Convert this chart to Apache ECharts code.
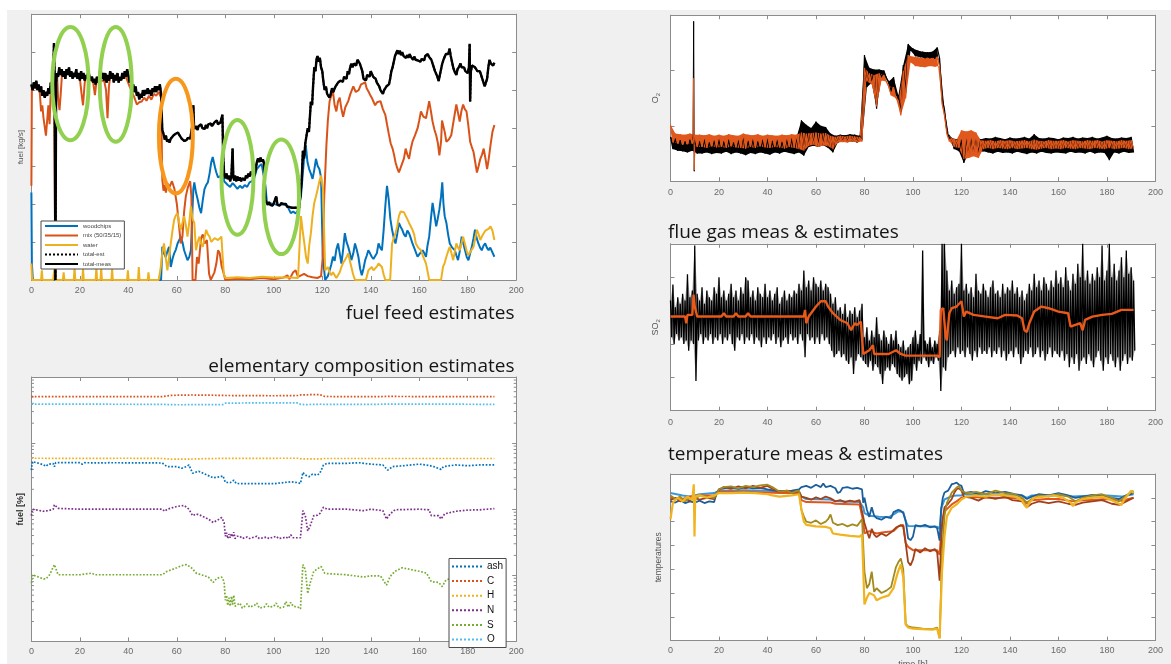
<!DOCTYPE html>
<html>
<head>
<meta charset="utf-8">
<script src="https://cdn.jsdelivr.net/npm/echarts@6/dist/echarts.min.js"></script>
<style>
html,body{margin:0;padding:0;background:#fff;}
#chart{width:1171px;height:664px;}
</style>
</head>
<body>
<div id="chart"></div>
<script>
// ---------------- shared time axis ----------------
const hourTicks = [0, 20, 40, 60, 80, 100, 120, 140, 160, 180, 200];

// ---------------- fuel feed estimates [kg/s] ----------------
const woodchips = [[0,2.3],[0.2,0.43],[0.6,0],[53.5,0],[54,0.87],[54.7,0.7],[55.4,0.6],[56.1,0.75],[56.8,0.87],[57.5,0.34],[58.2,0.55],[58.9,0.7],[59.6,0.8],[60.3,0.96],[61,1.05],[61.6,1.14],[62.3,1.0],[63,0.78],[63.7,0.65],[64.4,0.52],[65.1,0.6],[65.8,0.78],[66.3,1.6],[66.8,2.39],[67.2,2.57],[67.9,2.3],[68.6,2.12],[69.3,1.9],[70,1.76],[70.7,2.1],[71.4,2.39],[72.1,2.5],[72.8,2.57],[73.5,2.8],[74.2,3.1],[74.8,3.24],[75.2,3.2],[75.8,2.95],[76.3,2.83],[77,2.7],[77.7,2.66],[78.4,2.75],[79,2.88],[79.5,2.6],[80,2.55],[81,2.5],[82,2.45],[83,2.55],[84,2.48],[85,2.4],[86,2.48],[87,2.42],[88,2.5],[89,2.45],[90,2.57],[91,2.6],[92,2.7],[93,2.92],[94,3.0],[95,3.05],[95.8,3.1],[96.5,2.5],[97.2,2.03],[98,1.99],[100,2.0],[102,1.97],[104,1.99],[105.6,1.95],[106.3,1.85],[107,1.76],[108,1.8],[109,1.75],[109.8,1.81],[110.5,1.85],[111.2,2.2],[111.9,2.75],[112.5,3.2],[113.2,3.55],[113.9,3.1],[114.6,2.92],[115.3,2.8],[116,2.66],[116.7,2.9],[117.4,3.19],[118.1,3.0],[118.8,2.92],[119.5,2.7],[120.2,0.61],[121.2,0],[122.3,0.1],[123,0.25],[123.7,0.4],[124.4,0.61],[125.1,0.5],[125.8,0.8],[126.5,0.96],[127.2,0.7],[127.9,0.43],[128.6,0.8],[129.3,1.23],[130,1.0],[130.7,0.87],[131.4,0.7],[132,0.52],[132.8,0.7],[133.5,0.96],[134.2,0.8],[134.9,0.61],[135.6,0.3],[136.3,0.12],[137,0.3],[137.7,0.52],[138.4,0.65],[139,0.78],[139.7,0.7],[140.4,0.61],[141.1,0.55],[141.8,0.52],[142.5,0.7],[143.2,0.96],[143.9,0.85],[144.6,0.78],[145.3,1.3],[146,1.94],[146.7,2.48],[147.4,2.12],[148.1,1.6],[148.8,1.32],[149.5,1.1],[150.2,0.96],[150.9,1.2],[151.6,1.5],[152.3,1.4],[153,1.32],[153.7,1.2],[154.4,1.14],[155.1,1.3],[155.8,1.23],[156.5,1.1],[157.2,0.96],[158.2,0.8],[159.3,0.61],[160.3,0.7],[161.4,0.78],[162.1,0.7],[162.8,0.61],[163.4,0.9],[164.1,1.14],[164.8,1.6],[165.5,2.03],[166.3,1.7],[167,1.41],[167.6,1.6],[168.3,1.85],[169,2.2],[169.5,2.57],[170,2.0],[170.5,1.68],[171.2,1.5],[171.9,1.2],[172.6,0.96],[173.6,0.85],[174.7,0.78],[175.3,0.65],[176,0.52],[176.7,0.75],[177.5,1.14],[178.2,0.96],[178.9,0.78],[179.6,0.6],[180.3,0.52],[181,0.7],[181.7,0.87],[182.4,1.1],[183,1.32],[183.7,1.1],[184.4,0.96],[185.1,0.85],[185.8,0.78],[186.5,0.9],[187.2,0.96],[187.9,0.85],[188.6,0.78],[189.3,0.85],[190,0.87],[191,0.61]];

const mixFuel = [[0,2.48],[0.2,5.1],[1,5.15],[2,5.05],[3,5.1],[3.5,4.9],[4,4.44],[4.5,4.6],[5,4.26],[5.5,4.3],[6,3.8],[6.5,4.2],[7,4.6],[7.5,4.1],[8,5.0],[8.5,5.1],[9,5.2],[9.3,5.7],[9.9,0],[10.2,5.2],[10.6,5.4],[11,4.8],[11.6,4.47],[12.2,5.0],[12.6,5.4],[14,5.45],[16,5.4],[18,5.4],[20,5.3],[20.7,4.9],[21.3,4.6],[22,5.2],[22.5,5.35],[24,5.3],[25.5,5.2],[26.2,4.87],[26.8,5.2],[28,5.25],[30,5.25],[30.8,5.0],[31.4,4.26],[32,5.1],[32.5,5.35],[35,5.3],[37,5.3],[39,5.35],[40.5,5.1],[41.5,4.95],[42.5,4.8],[43.5,4.62],[44.5,4.68],[45.5,4.7],[46.5,4.8],[47.5,4.72],[48.5,4.85],[49.5,4.75],[50.5,4.9],[51.5,4.85],[52.5,4.95],[53.5,4.8],[54,2.65],[54.5,2.35],[55,2.5],[55.5,2.3],[56,2.55],[57,2.45],[58,2.6],[59,2.4],[60,2.0],[60.8,1.5],[61.6,0.96],[62.3,1.14],[63,1.8],[63.7,2.2],[64.5,2.43],[65.5,2.6],[66,2.2],[66.5,0],[67.7,0],[68.3,0.6],[69,0.43],[70,1.1],[70.7,1.2],[71.5,0.96],[72.4,1.05],[73.3,0.16],[74,0],[75.5,0.2],[76.3,0.43],[77,0.78],[77.7,0.7],[78.5,0.35],[79,0.25],[80,0],[85,0.03],[90,0.02],[95,0.05],[100,0.02],[104,0.06],[105.6,0.12],[106.5,0.02],[108,0.2],[109,0.25],[110,0.08],[112.5,0.16],[114,0.1],[116,0.07],[118,0.05],[119.5,0.1],[120.2,0.6],[120.8,2.2],[121.7,3.55],[122.3,4.2],[123,4.7],[123.7,4.85],[124.4,4.97],[125.1,4.6],[125.8,4.44],[126.5,4.7],[127.2,4.8],[127.9,4.5],[128.6,4.3],[129.5,4.55],[130.7,4.71],[131.6,4.9],[132.8,5.1],[133.8,4.95],[135,5.0],[136,5.15],[137.7,5.2],[138.3,5.05],[139,4.97],[139.7,4.88],[140.4,4.8],[141.1,4.7],[141.8,4.6],[142.6,4.68],[144,4.71],[145,4.5],[146,4.35],[146.7,4.1],[147.4,3.86],[148.2,3.6],[149,3.46],[149.6,3.3],[150.2,3.1],[150.9,2.95],[151.6,2.83],[152.3,2.95],[153,2.92],[153.7,3.2],[154.4,3.46],[155.1,3.3],[155.8,3.19],[156.5,3.45],[157.2,3.64],[158.2,3.8],[159.3,3.99],[160,4.2],[160.7,4.44],[161.7,4.3],[162.8,4.26],[163.5,4.5],[164.1,4.71],[164.8,4.45],[165.5,4.17],[166.3,3.95],[167,3.81],[167.7,3.6],[168.3,3.28],[169,3.64],[169.4,4.2],[169.8,4.17],[170.5,3.9],[171.2,3.64],[172.2,3.7],[173.2,3.81],[174.2,4.2],[175.3,4.62],[176,4.4],[176.7,4.17],[177.4,4.45],[178.1,4.62],[178.8,4.5],[179.5,4.44],[180.2,4.1],[181,3.64],[181.7,3.5],[182.4,3.37],[183.1,3.1],[183.8,2.83],[184.5,3.0],[185.2,3.19],[185.9,3.3],[186.6,3.46],[187.3,3.2],[188,2.92],[188.7,3.2],[189.4,3.55],[190.2,3.9],[191,4.08]];

const waterFuel = [[0,0.43],[0.3,0],[4,0],[4.3,0.25],[4.6,0],[9,0],[9.5,0.3],[10,0],[13,0],[13.3,0.2],[13.6,0],[17.5,0],[17.8,0.34],[18.1,0],[21,0],[21.3,0.3],[21.6,0],[26.5,0],[26.8,0.34],[27.1,0],[28.5,0],[28.8,0.3],[29.1,0],[33,0],[33.3,0.3],[33.6,0],[39.5,0],[39.8,0.25],[40.1,0],[44,0],[44.3,0.34],[44.6,0],[48,0],[48.3,0.2],[48.6,0],[52.5,0],[53.3,0.3],[54,0.7],[54.7,0.96],[55.4,0.6],[56.1,0.25],[56.8,0.6],[57.5,0.96],[58.2,1.3],[58.9,1.59],[59.6,1.7],[60.3,1.76],[61,1.5],[61.6,1.32],[62.3,1.5],[63,1.68],[63.7,1.45],[64.4,1.14],[65.1,1.5],[65.8,1.94],[66.5,1.6],[67.2,1.5],[67.9,0.78],[68.6,1.0],[69.3,1.14],[70,0.96],[70.7,0.87],[71.4,1.1],[72.1,1.32],[72.8,1.2],[73.5,1.14],[74.2,1.0],[74.9,1.05],[75.6,1.1],[76.3,1.14],[77,1.05],[77.7,1.1],[78.4,1.14],[78.9,0.6],[79.4,0.16],[80,0.05],[85,0.07],[90,0.05],[95,0.08],[100,0.06],[105,0.07],[110,0.05],[110.8,0.1],[111.2,1.68],[111.9,1.3],[112.6,0.96],[113.3,0.6],[114,0.43],[114.6,0.9],[115.3,1.23],[116,1.7],[116.7,2.03],[117.4,2.2],[118.1,2.39],[118.8,2.6],[119.5,2.75],[120.3,2.4],[121.2,0.25],[122.3,0.34],[123,0.2],[123.7,0.12],[124.4,0.2],[125.1,0.16],[125.8,0.05],[126.5,0],[127.2,0.2],[127.9,0.34],[128.6,0.45],[129.3,0.52],[130,0.6],[130.7,0.7],[131.4,0.5],[132,0.34],[132.7,0.15],[133.5,0],[138,0],[139,0.25],[139.7,0.3],[140.4,0.34],[141.1,0.25],[141.8,0.25],[142.5,0.35],[143.2,0.43],[143.9,0.38],[144.6,0.34],[145.3,0.15],[146,0],[148,0],[148.8,0.96],[149.5,1.1],[150.2,1.23],[150.9,1.4],[151.6,1.68],[152.3,1.8],[153,1.85],[153.7,1.78],[154.4,1.76],[155.1,1.6],[155.8,1.5],[156.5,1.45],[157.2,1.32],[157.9,1.2],[158.6,0.96],[159.6,0.85],[160.7,0.78],[161.7,0.6],[162.8,0.43],[163.5,0.2],[164.1,0],[169,0],[169.8,0.34],[170.5,0.45],[171.2,0.61],[171.9,0.75],[172.6,0.87],[173.3,0.7],[174,0.52],[174.7,0.75],[175.3,0.96],[176,0.85],[176.7,0.78],[177.4,0.96],[178.1,1.14],[178.8,0.96],[179.5,0.78],[180.2,0.65],[181,0.61],[181.7,0.8],[182.4,0.87],[183.1,1.1],[183.8,1.32],[184.5,1.2],[185.2,1.05],[185.9,1.15],[186.6,1.23],[187.3,1.3],[188,1.32],[188.7,1.35],[189.4,1.41],[190.2,1.3],[191,1.05]];

const totalMeas = [[0,5.15],[0.5,5.0],[1,5.2],[1.5,5.05],[2,5.25],[2.5,5.0],[3,5.15],[3.5,4.95],[4,5.1],[4.5,4.85],[5,5.0],[5.5,4.8],[6,4.95],[6.5,4.85],[7,5.05],[7.5,4.9],[8,5.2],[8.5,5.0],[9,5.3],[9.3,6.24],[9.6,5.4],[9.9,0],[10.2,5.2],[10.5,5.45],[11,5.35],[11.5,5.6],[12,5.4],[12.5,5.55],[13,5.35],[13.5,5.5],[14,5.3],[14.5,5.55],[15,5.4],[15.5,5.6],[16,5.35],[16.5,5.5],[17,5.3],[17.5,5.45],[18,5.35],[18.5,5.55],[19,5.3],[19.5,5.45],[20,5.25],[20.5,5.5],[21,5.3],[21.5,5.45],[22,5.25],[22.5,5.4],[23,5.3],[23.5,5.5],[24,5.35],[24.5,5.25],[25,5.35],[25.5,5.2],[26,5.3],[26.5,5.15],[27,5.35],[27.5,5.2],[28,5.3],[28.5,5.6],[29,5.3],[29.5,5.45],[30,5.25],[30.5,5.45],[31,5.2],[31.5,5.4],[32,5.25],[32.5,5.5],[33,5.3],[33.5,5.45],[34,5.2],[34.5,5.4],[35,5.25],[35.5,5.45],[36,5.2],[36.5,5.35],[37,5.25],[37.5,5.45],[38,5.3],[38.5,5.5],[39,5.35],[39.5,5.55],[40,5.4],[40.5,5.2],[41,5.3],[41.5,5.05],[42,5.15],[42.5,4.95],[43,5.1],[43.5,4.85],[44,4.95],[44.5,4.75],[45,4.9],[45.5,4.8],[46,5.0],[46.5,4.85],[47,5.0],[47.5,4.9],[48,5.05],[48.5,4.9],[49,5.0],[49.5,4.85],[50,5.05],[50.5,4.95],[51,5.1],[51.5,4.95],[52,5.1],[52.5,5.0],[53,5.15],[53.5,4.9],[54,3.95],[54.5,3.85],[55,3.7],[55.5,3.8],[56,3.64],[56.5,3.7],[57,3.62],[57.5,3.72],[58,3.7],[58.5,3.8],[59,3.75],[59.5,3.85],[60,3.8],[60.5,3.88],[61,3.82],[61.5,3.78],[62,3.72],[62.5,3.68],[63,3.66],[63.5,3.7],[64,3.68],[64.5,3.74],[65,3.7],[65.5,3.72],[66,3.7],[66.5,4.1],[66.8,4.6],[67.1,4.05],[67.5,3.98],[68,4.05],[68.5,3.95],[69,4.05],[69.5,4.0],[70,4.1],[70.5,4.0],[71,4.05],[71.5,3.98],[72,4.08],[72.5,4.0],[73,4.1],[73.5,4.05],[74,4.12],[74.5,4.05],[75,4.1],[75.5,4.15],[76,4.12],[76.5,4.2],[77,4.1],[77.5,4.08],[78,4.15],[78.5,4.1],[78.8,4.35],[79.1,3.3],[79.5,2.8],[80,2.68],[80.5,2.8],[81,2.65],[81.5,2.75],[82,2.6],[82.5,2.72],[83,3.46],[83.3,2.7],[83.7,2.62],[84,2.75],[84.5,2.6],[85,2.72],[85.5,2.62],[86,2.7],[86.5,2.6],[87,2.68],[87.5,2.72],[88,2.62],[88.5,2.75],[89,2.68],[89.5,2.8],[90,2.72],[90.5,2.85],[91,2.78],[91.5,2.82],[92,2.75],[92.5,2.9],[93,3.1],[93.5,3.2],[94,3.1],[94.5,3.22],[95,3.12],[95.5,3.18],[96,3.05],[96.5,2.1],[97,2.05],[97.5,1.98],[98,2.05],[98.5,1.98],[99,2.03],[99.5,1.96],[100,2.02],[100.5,1.97],[101,2.2],[101.5,1.98],[102,2.03],[102.5,1.96],[103,2.02],[103.5,1.97],[104,2.0],[104.5,1.95],[105,2.0],[105.5,1.93],[106,1.98],[106.5,1.92],[107,1.97],[107.5,1.9],[108,1.95],[108.5,1.9],[109,1.95],[109.5,1.9],[110,1.93],[110.5,1.9],[111,1.95],[111.5,2.6],[112,3.4],[112.5,3.2],[113,3.6],[113.5,3.8],[114,4.0],[114.5,3.9],[115,4.4],[115.3,4.7],[115.8,4.6],[116.2,5.1],[116.7,5.6],[117.2,5.5],[117.6,5.8],[118,5.9],[118.5,5.75],[119,5.85],[119.5,5.6],[120,5.5],[120.5,5.2],[121,5.0],[121.5,5.1],[122,4.9],[122.5,4.85],[123,4.8],[123.5,4.9],[124,5.05],[124.5,4.95],[125,5.0],[125.5,5.1],[126,5.05],[126.5,5.2],[127,5.15],[127.5,5.25],[128,5.3],[128.5,5.22],[129,5.35],[129.5,5.4],[130,5.3],[130.5,5.5],[131,5.42],[131.5,5.6],[132,5.7],[132.5,5.6],[133,5.7],[133.5,5.75],[134,5.65],[134.5,5.8],[135,5.82],[135.5,5.7],[136,5.75],[136.5,5.5],[137,5.3],[137.5,5.35],[138,5.25],[138.5,5.4],[139,5.42],[139.5,5.35],[140,5.5],[140.5,5.45],[141,5.35],[141.5,5.4],[142,5.3],[142.5,5.2],[143,5.24],[143.5,5.1],[144,5.0],[144.5,4.95],[145,4.9],[145.5,5.0],[146,4.95],[146.5,5.1],[147,5.05],[147.5,5.15],[148,5.3],[148.5,5.5],[149,5.6],[149.5,5.75],[150,5.9],[150.5,5.95],[151,6.05],[151.5,5.95],[152,6.04],[152.5,5.92],[153,6.0],[153.5,5.9],[154,5.95],[154.5,5.85],[155,5.92],[155.5,5.85],[156,5.95],[156.5,5.88],[157,5.9],[157.5,5.8],[158,5.88],[158.5,5.8],[159,5.85],[159.5,5.78],[160,5.82],[160.5,5.75],[161,5.82],[161.5,5.85],[162,5.78],[162.5,5.9],[163,5.85],[163.5,5.95],[164,5.88],[164.5,5.92],[165,5.8],[165.5,5.7],[166,5.6],[166.5,5.5],[167,5.45],[167.5,5.35],[168,5.24],[168.5,5.4],[169,5.55],[169.5,5.7],[170,5.8],[170.5,5.88],[171,5.95],[171.5,6.0],[172,5.95],[172.5,6.09],[173,5.9],[173.5,5.75],[174,5.6],[174.5,5.5],[175,5.45],[175.3,5.4],[175.8,5.55],[176.5,5.62],[177,5.7],[177.5,5.6],[178,5.55],[178.5,5.6],[179,5.5],[179.5,5.52],[180,5.45],[180.5,5.6],[180.8,6.22],[181,4.7],[181.3,5.5],[181.8,5.65],[182.5,5.7],[183,5.6],[183.5,5.65],[184,5.5],[184.5,5.55],[185,5.5],[185.5,5.4],[186,5.3],[186.5,5.2],[187,5.1],[187.6,5.06],[188,5.3],[188.5,5.6],[189,5.8],[189.5,5.7],[190,5.75],[190.5,5.65],[191,5.72]];
// the estimated total follows the measured total so closely that it hides under it
const totalEst = totalMeas;

// highlighted periods: centre [h, kg/s] and half-axes [h, kg/s]
const highlightCentres = [[16.1,5.17],[34.8,5.15],[59.6,3.79],[85.0,2.70],[103.1,2.19]];
const highlightRadii   = [[7.5,1.49],[6.6,1.51],[7.0,1.51],[6.6,1.51],[7.3,1.51]];
const highlightColours = ['#92d050','#92d050','#f7981d','#92d050','#92d050'];

// ---------------- elementary composition estimates [%] ----------------
const compAsh = [[0,3.9],[0.4,5.25],[3,4.95],[5,4.7],[6,4.45],[7,4.8],[9,4.9],[9.5,4.4],[10,5.05],[20,5.05],[21,4.8],[22,5.05],[31,5.0],[31.5,4.8],[32,5.05],[54,5.0],[55,4.67],[56,4.41],[60,4.41],[62,4.16],[64,4.41],[65,4.67],[66.5,3.5],[67,3.69],[69,3.75],[72,3.35],[75,2.98],[78,3.1],[79,3.2],[80,2.56],[82,2.52],[83.5,2.75],[84.5,2.45],[90,2.43],[100,2.43],[107,2.6],[110,2.52],[111,2.45],[112,3.6],[113,3.28],[114.5,3.1],[116,3.4],[118,3.28],[119,3.5],[120.5,4.67],[122,4.94],[130,4.94],[135,5.05],[140,4.8],[145,4.67],[147,3.9],[149,4.41],[152,4.5],[160,4.8],[164,4.6],[166,4.41],[169,4.0],[170,4.41],[175,4.67],[180,4.55],[185,4.67],[191,4.67]];
const compC = [[0,50.4],[10,50.6],[20,50.4],[40,50.4],[54,50.6],[57,52.5],[60,53],[66,53.4],[75,53],[80,52.5],[90,52.3],[100,52],[110,52.5],[111,53.5],[115,54],[119,54],[121,50.8],[130,50.4],[140,50.4],[147,50.8],[160,50.6],[170,50.5],[191,50.4]];
const compH = [[0,5.9],[20,5.88],[40,5.9],[54,5.85],[58,5.7],[65,5.72],[70,5.8],[80,5.88],[110,5.9],[112,5.75],[120,5.78],[121,5.85],[150,5.85],[191,5.85]];
const compN = [[0,0.8],[0.4,1.0],[5,0.93],[7,0.95],[9,1.0],[9.5,1.17],[11,1.03],[20,1.0],[40,1.0],[54,1.0],[55,0.93],[56,1.0],[60,1.1],[63,1.14],[65,1.0],[66.5,0.8],[68,0.85],[70,0.8],[73,0.71],[75,0.63],[77,0.69],[78.5,0.75],[79.5,0.63],[80,0.39],[80.5,0.44],[81,0.36],[81.5,0.42],[82,0.37],[82.5,0.43],[83,0.38],[83.5,0.45],[84,0.36],[85,0.39],[86,0.39],[87,0.36],[88,0.37],[89,0.38],[90,0.36],[92,0.38],[93,0.39],[94,0.36],[96,0.37],[97,0.38],[98,0.36],[100,0.38],[101,0.39],[102,0.36],[104,0.37],[105,0.38],[106,0.36],[107,0.41],[108,0.37],[110,0.37],[111,0.37],[112,0.95],[113,0.8],[114,0.47],[115,0.56],[116.5,0.8],[118,0.81],[119,0.86],[120.5,1.07],[122,1.0],[130,1.0],[137,0.95],[140,1.0],[145,0.95],[146.5,0.71],[148,0.85],[150,0.98],[160,1.0],[164,0.98],[165,0.8],[168,0.8],[169,0.71],[170.5,0.85],[175,0.93],[180,0.97],[185,0.98],[191,1.02]];
const compS = [[0,0.076],[0.4,0.102],[5,0.088],[6,0.088],[7.5,0.102],[9.5,0.145],[11,0.102],[20,0.102],[25,0.108],[26,0.102],[40,0.102],[54,0.102],[55,0.108],[56,0.115],[58,0.122],[60,0.13],[62,0.14],[64,0.145],[66,0.13],[68,0.108],[70,0.102],[73,0.094],[75,0.078],[76.5,0.09],[78.5,0.094],[79.5,0.08],[80,0.042],[80.5,0.05],[81,0.035],[81.5,0.046],[82,0.034],[82.5,0.048],[83,0.036],[83.5,0.05],[84,0.034],[85,0.036],[86,0.038],[87,0.032],[88,0.034],[89,0.037],[90,0.033],[92,0.035],[93,0.038],[94,0.032],[96,0.033],[97,0.037],[98,0.033],[100,0.034],[101,0.038],[102,0.032],[104,0.033],[105,0.04],[106,0.033],[107,0.039],[108,0.034],[110,0.033],[111,0.031],[112,0.145],[113,0.122],[114,0.053],[115,0.076],[116.5,0.115],[118,0.125],[119.5,0.136],[121,0.108],[122,0.106],[130,0.102],[137,0.094],[140,0.098],[144,0.098],[146.5,0.071],[148,0.096],[150,0.115],[153,0.13],[160,0.115],[163,0.108],[165,0.08],[168,0.078],[169.5,0.0675],[171,0.085],[175,0.094],[180,0.098],[185,0.102],[191,0.103]];
const compO = [[0,38.9],[20,38.8],[40,38.7],[54,38.5],[60,38.0],[70,38.2],[79,38.3],[80,40.2],[90,40.5],[100,40.6],[110,40.5],[111,38.6],[113,38.2],[120,38.8],[121,38.4],[140,38.5],[150,39.0],[170,38.9],[191,38.5]];
const logDecades = [0.01, 0.1, 1, 10];
const logMantissas = [2, 3, 4, 5, 6, 7, 8, 9];

// ---------------- O2: measured and estimated band, 2 h samples from 0 h ----------------
const o2MeasHi = [.80,.77,.74,.72,.75,.74,.72,.76,.70,.74, .76,.72,.75,.70,.74,.82,.73,.76,.72,.75, .77,.73,.75,.71,.76,.78,.80,1.10,1.02,.96, 1.08,1.00,.98,.86,.82,.84,.83,.85,.84,.82, 2.28,2.05,2.02,2.02,2.00,1.80,1.88,1.55,2.10,2.48, 2.40,2.36,2.34,2.33,2.34,2.42,1.50,.90,.78,.76, .75,.78,.77,.79,.76,.78,.77,.80,.78,.76, .79,.77,.78,.80,.77,.85,.78,.77,.79,.78, .76,.79,.78,.80,.77,.79,.78,.80,.77,.79, .82,.78,.77,.79,.78,.80];
const o2MeasLo = [.58,.55,.54,.52,.55,.50,.50,.52,.49,.51, .50,.53,.49,.52,.50,.47,.51,.49,.52,.50, .48,.52,.50,.53,.51,.49,.52,.46,.62,.64, .62,.65,.60,.52,.70,.72,.71,.72,.70,.74, 1.70,1.78,1.31,1.88,1.86,1.62,1.55,1.25,1.60,2.36, 2.26,2.24,2.22,2.22,2.21,2.22,1.30,.78,.58,.54, .33,.50,.53,.51,.54,.52,.50,.53,.51,.52, .50,.53,.51,.49,.52,.50,.53,.51,.50,.52, .51,.50,.53,.51,.52,.50,.53,.50,.52,.51, .38,.52,.50,.53,.51,.52];
const o2EstHi = [1.02,.86,.85,.84,.86,.84,.84,.83,.85,.82, .84,.82,.85,.83,.82,.86,.84,.83,.85,.82, .84,.83,.82,.84,.83,.85,.84,.88,.86,.87, .88,.86,.87,.82,.80,.82,.81,.82,.81,.80, 2.05,1.95,1.92,1.95,1.92,1.72,1.70,1.45,2.00,2.28, 2.25,2.24,2.22,2.23,2.22,2.25,1.40,.85,.78,.75, .92,.90,.92,.88,.74,.73,.74,.72,.74,.73, .74,.72,.73,.74,.72,.75,.73,.72,.74,.73, .73,.74,.72,.74,.73,.72,.74,.73,.74,.72, .74,.73,.72,.74,.73,.74];
const o2EstLo = [.70,.68,.66,.67,.68,.62,.62,.60,.63,.61, .62,.60,.63,.61,.60,.59,.62,.60,.63,.61, .60,.62,.61,.59,.62,.60,.58,.55,.64,.66, .62,.65,.63,.58,.70,.71,.70,.72,.70,.72, 1.80,1.75,1.35,1.82,1.80,1.55,1.50,1.19,1.50,2.15, 2.08,2.07,2.06,2.08,2.07,2.08,1.20,.72,.62,.60, .40,.42,.45,.42,.58,.60,.58,.60,.59,.58, .60,.58,.59,.60,.58,.57,.59,.60,.58,.59, .58,.60,.59,.58,.60,.59,.58,.60,.59,.58, .60,.58,.59,.60,.58,.59];
// short transient around 9.6 h
const o2MeasSpike = [[9.3,0.74],[9.55,2.89],[9.8,0.18],[10,0.6]];
const o2EstSpike = [[9.3,0.80],[9.55,1.86],[9.8,0.20],[10,0.66]];

// ---------------- SO2: measured range per hour from 0 h, and estimate ----------------
const so2MeasHi = [3.3,3.78,3.1,3.4,3.2,3.5,3.3,4.09,3.4,3.6, 4.95,3.5,3.3,3.7,3.2,3.6,3.4,3.3,3.7,3.5, 4.0,3.4,3.6,3.3,3.5,3.8,3.4,3.6,3.3,3.7, 3.5,4.0,3.9,3.4,3.6,3.3,3.7,3.5,3.4,3.8, 3.4,3.6,3.3,3.5,3.7,3.2,3.4,3.6,3.3,3.5, 3.4,3.6,3.5,3.8,3.6,4.2,3.7,3.9,3.6,4.0, 3.8,3.7,3.9,3.6,3.8,3.7,3.5,3.2,3.4,3.0, 3.1,2.9,3.2,2.8,3.0,2.9,3.1,2.8,3.0,3.2, 2.2,2.5,2.1,2.4,2.2,2.8,2.3,2.1,2.4,2.2, 2.0,2.3,2.1,2.4,2.0,1.9,2.1,1.8,1.9,2.0, 2.2,2.4,2.0,2.3,4.8,2.1,2.0,2.2,1.9,2.1, 2.0,2.4,5.0,5.0,4.2,3.6,3.9,3.5,3.7,3.8, 5.0,3.6,3.8,3.5,3.7,3.4,4.1,3.6,3.5,3.8, 3.6,3.4,3.7,3.9,3.5,3.6,3.4,3.8,3.5,3.7, 3.6,3.9,3.5,3.7,3.4,3.6,3.3,3.5,3.8,3.6, 4.1,3.7,3.9,3.6,4.0,3.8,3.6,3.9,3.7,4.2, 3.8,4.0,3.7,4.3,3.9,3.6,4.1,3.8,4.4,4.0, 5.0,3.9,4.2,3.8,4.1,3.9,4.3,4.0,4.95,3.9, 4.2,5.0,4.0,4.4,3.9,4.2,4.6,4.0,4.8,4.1, 4.3,3.9];
const so2MeasLo = [2.2,2.0,2.3,2.1,2.2,2.0,2.1,1.8,2.1,2.0, 0.89,2.1,2.3,2.0,2.2,2.1,2.3,2.0,2.2,2.1, 2.3,2.0,2.2,2.1,2.3,2.0,1.8,2.2,2.1,2.3, 2.0,2.2,2.1,2.3,2.0,2.2,2.1,1.9,2.2,2.0, 2.2,2.1,2.3,2.0,2.2,1.9,2.1,2.2,2.0,2.3, 2.1,2.2,2.0,2.3,2.1,1.6,2.3,2.1,2.2,2.0, 2.2,2.0,2.3,2.1,2.2,2.0,1.8,1.6,1.7,1.8, 1.6,1.7,1.5,1.4,1.6,1.1,1.5,1.7,1.6,1.5, 1.4,1.3,1.5,1.2,1.4,1.3,1.1,0.8,1.2,1.3, 1.2,1.4,1.3,1.1,1.0,0.9,1.0,1.1,0.79,0.9, 1.4,1.2,1.5,1.4,1.6,1.5,1.3,1.5,1.4,1.6, 1.5,0.59,1.3,1.2,1.6,1.7,1.8,1.6,1.9,1.7, 1.8,1.6,1.9,1.7,1.5,1.8,1.6,1.9,1.7,1.8, 1.7,1.9,1.6,1.8,1.7,1.9,1.6,1.8,1.5,1.7, 1.8,1.6,1.9,1.7,1.4,1.6,1.8,1.7,1.9,1.6, 1.7,1.9,1.6,1.8,1.5,1.7,1.9,1.6,1.8,1.7, 1.6,1.8,1.5,1.7,1.3,1.6,1.4,1.7,1.2,1.5, 1.6,1.4,1.7,1.5,1.3,1.6,1.8,1.5,1.2,1.6, 1.4,1.7,1.5,1.3,1.6,1.2,1.5,1.7,1.4,1.6, 1.5,1.8];
const so2Est = [[0,2.82],[6,2.82],[6.5,2.62],[7,2.87],[9,2.87],[9.5,3.48],[10,3.12],[11,2.82],[21,2.82],[22,2.92],[23,2.82],[26,2.82],[27,2.92],[28,2.82],[31,2.82],[32,2.92],[33,2.82],[55,2.82],[55.5,3.02],[56,2.62],[57,2.82],[60,3.12],[62,3.28],[64,3.28],[65,3.12],[67,2.92],[70,2.72],[73,2.62],[74.5,2.41],[76,2.62],[77,2.57],[78.5,2.67],[79.5,1.70],[80,1.70],[82,1.81],[83.5,1.96],[84,1.70],[90,1.70],[93,1.81],[95,1.70],[97,1.65],[110,1.65],[111,1.60],[111.5,3.02],[112.5,3.07],[113.5,2.21],[114,2.11],[115,2.92],[116,3.07],[118,3.12],[120,3.28],[121,2.82],[122,2.97],[125,2.87],[130,2.82],[135,2.77],[138,2.87],[143,2.85],[145,2.77],[146,2.41],[147,2.36],[148,2.62],[150,2.97],[153,3.12],[156,3.07],[160,2.97],[164,2.92],[165,2.52],[167,2.57],[169,2.62],[170,2.41],[171,2.72],[174,2.82],[178,2.87],[182,2.90],[186,3.02],[191,3.02]];

// ---------------- temperatures: three measured / estimated pairs ----------------
const tempEstBlue = [[0,6.2],[5,6.1],[8,6.05],[12,6.15],[18,6.2],[20,6.3],[30,6.32],[40,6.3],[45,6.25],[53,6.24],[54,6.05],[56,5.95],[66,5.93],[68,5.85],[78,5.82],[79.5,5.6],[80,5.36],[82,5.25],[86,5.2],[90,5.18],[92,5.3],[94,5.43],[96,5.4],[97,5.0],[98,4.82],[104,4.8],[110,4.78],[111,4.7],[111.8,5.6],[112.5,5.79],[113,5.93],[116,6.07],[118,6.1],[120,6.1],[121,6.15],[130,6.15],[140,6.12],[145,6.1],[147,6.0],[149,6.1],[160,6.12],[166,6.05],[170,6.08],[180,6.1],[186,6.05],[191,6.15]];
const tempEstOrange = [[0,6.0],[5,5.95],[8,6.05],[12,6.1],[18,6.1],[20,6.25],[30,6.25],[40,6.22],[45,6.2],[53,6.2],[54,5.9],[56,5.82],[66,5.8],[68,5.75],[78,5.72],[79.5,5.0],[80,4.51],[82,4.6],[85,4.5],[88,4.55],[92,4.6],[94,4.8],[96,4.86],[97,4.1],[98,3.94],[100,3.8],[110,3.8],[111,3.6],[111.6,4.5],[112.3,5.1],[113,5.43],[116,5.72],[118,5.85],[120,6.0],[122,6.05],[130,6.0],[140,6.0],[145,5.95],[147,5.75],[149,5.9],[155,5.95],[160,5.95],[166,5.85],[170,5.9],[175,5.92],[180,5.95],[186,5.88],[191,6.0]];
const tempEstYellow = [[0,5.1],[1,5.8],[3,6.0],[5,5.85],[7,6.05],[9,5.9],[9.6,6.57],[9.9,4.37],[10.2,6.05],[12,6.1],[15,6.0],[18,6.1],[20,6.2],[25,6.2],[30,6.22],[35,6.2],[40,6.15],[42,6.1],[45,6.05],[50,6.1],[53,6.15],[54,5.5],[55,5.0],[56,4.86],[60,4.8],[64,4.78],[66,4.72],[67,4.5],[70,4.45],[74,4.4],[78,4.37],[79,4.45],[80,1.52],[81,1.8],[82,2.0],[84,1.9],[85,1.7],[87,1.8],[90,1.9],[92,2.2],[93,2.6],[94,2.94],[95,3.2],[96,2.66],[97,0.67],[98,0.55],[100,0.5],[104,0.48],[108,0.46],[110,0.5],[111,0.1],[112,2.94],[113,4.37],[114,5.22],[116,5.58],[118,5.72],[120,5.93],[122,6.05],[126,6.1],[130,6.05],[134,6.15],[138,6.1],[142,6.05],[145,5.9],[146,5.7],[147,5.58],[148,5.8],[150,6.0],[154,6.05],[158,6.1],[162,6.0],[165,5.8],[166,5.65],[167,5.8],[170,5.95],[174,6.0],[178,6.05],[182,5.9],[185,5.75],[186,5.7],[187,5.9],[190,6.3],[191,6.2]];
const tempMeasBlue = [[0,5.85],[2,5.8],[4,5.9],[6,5.78],[8,5.85],[10,5.8],[12,5.88],[14,5.78],[16,5.85],[18,5.82],[19,6.2],[20,6.35],[22,6.4],[25,6.45],[28,6.38],[31,6.45],[34,6.4],[37,6.42],[40,6.35],[43,6.3],[46,6.28],[50,6.3],[53,6.35],[54,6.45],[56,6.5],[58,6.42],[60,6.55],[62,6.45],[63,6.6],[64,6.45],[66,6.5],[68,6.4],[69,6.2],[70,6.25],[71,6.42],[73,6.45],[75,6.38],[77,6.42],[79,6.35],[79.5,5.79],[80,6.0],[81,5.5],[82,5.2],[83,5.6],[84,5.25],[85,5.15],[87,5.08],[89,5.2],[91,5.15],[92,5.4],[94,5.5],[95,5.45],[96,5.36],[97,5.05],[98,4.3],[99,4.22],[100,4.37],[101,4.85],[103,4.8],[105,4.86],[107,4.76],[109,4.8],[110,4.72],[111,4.2],[111.6,5.5],[112.3,6.0],[113,6.22],[114.5,6.3],[116,6.57],[117,6.6],[118,6.64],[119,6.55],[120,6.5],[121,6.2],[124,6.25],[127,6.15],[130,6.28],[134,6.2],[138,6.25],[142,6.15],[145,6.1],[147,5.95],[149,6.05],[152,6.15],[156,6.1],[160,6.2],[164,6.1],[167,6.0],[170,6.05],[174,6.12],[178,6.1],[182,6.0],[185,5.95],[188,6.1],[191,6.2]];
const tempMeasBrown = [[0,5.9],[2,6.0],[4,5.85],[6,5.95],[8,5.88],[10,6.0],[12,5.92],[15,6.0],[18,5.95],[20,6.35],[22,6.45],[25,6.38],[28,6.48],[31,6.4],[34,6.5],[37,6.42],[40,6.5],[42,6.38],[45,6.25],[48,6.3],[51,6.22],[53,6.28],[54,6.05],[56,6.0],[58,5.92],[60,6.02],[62,5.95],[64,6.05],[66,5.98],[68,5.85],[70,5.9],[72,5.82],[74,5.88],[76,5.84],[78,5.9],[79.5,5.2],[80,4.94],[81,4.6],[82,4.3],[83,4.7],[84,4.45],[85,4.35],[87,4.5],[89,4.4],[91,4.55],[93,4.75],[95,4.85],[96,4.8],[97,4.1],[98,3.3],[99,3.16],[100,3.4],[101,3.85],[103,3.7],[105,3.88],[107,3.75],[109,3.85],[110,3.7],[111,2.52],[112,4.9],[113,5.6],[114.5,5.75],[116,5.95],[117,6.2],[118,6.36],[119,6.4],[120,6.3],[121,6.05],[124,6.0],[127,5.88],[130,6.05],[134,5.95],[138,6.05],[141,5.9],[145,5.85],[147,5.6],[149,5.75],[152,5.85],[156,5.78],[160,5.85],[164,5.75],[167,5.7],[170,5.8],[174,5.85],[178,5.9],[182,5.75],[185,5.7],[188,5.85],[191,6.0]];
const tempMeasOlive = [[0,6.1],[2,5.95],[4,6.05],[6,5.85],[8,6.0],[10,5.9],[12,6.1],[15,6.05],[18,6.0],[20,6.35],[22,6.45],[25,6.48],[28,6.4],[31,6.5],[34,6.45],[37,6.52],[40,6.55],[42,6.45],[45,6.25],[48,6.3],[50,6.2],[52,6.28],[53,6.3],[54,5.5],[55,5.22],[56,5.0],[58,4.95],[60,5.05],[62,4.9],[64,5.0],[65,5.1],[66,5.3],[67,4.95],[69,4.85],[71,4.9],[73,4.8],[75,4.88],[77,4.82],[79,5.1],[80,2.9],[81,2.2],[82,2.38],[83,2.9],[84,2.05],[85,2.2],[87,2.0],[89,2.1],[91,2.25],[93,3.09],[94,3.3],[95,3.45],[96,3.0],[97,0.7],[98,0.6],[100,0.55],[104,0.5],[108,0.48],[110,0.55],[111,0.1],[112,3.65],[113,5.22],[114,5.79],[116,6.22],[118,6.43],[119,6.5],[120,6.3],[122,6.2],[126,6.25],[130,6.15],[134,6.3],[138,6.2],[142,6.15],[145,6.0],[147,5.8],[149,5.95],[152,6.1],[156,6.05],[160,6.15],[164,6.05],[167,5.85],[170,6.0],[174,6.1],[178,6.15],[182,6.0],[185,5.85],[188,6.1],[191,6.3]];

// ---------------- helpers ----------------
const hourMin = hourTicks[0];
const hourMax = hourTicks[hourTicks.length - 1];
const hourStep = hourTicks[1] - hourTicks[0];
const frameColor = '#8c8c8c';
const tickFont = 'Liberation Sans';
const titleFont = 'Open Sans';

// alternate upper and lower sample values so the band reads as a noisy trace
function noiseTrace(start, step, hi, lo) {
  const pts = [];
  for (let i = 0; i < hi.length; i++) {
    pts.push([start + i * step, hi[i]]);
    pts.push([start + i * step + step / 2, lo[i]]);
  }
  return pts;
}

// filled envelope between the upper and lower samples of a noisy signal
function envelope(gi, start, step, hi, lo, color) {
  return {
    type: 'custom', xAxisIndex: 2 * gi, yAxisIndex: 2 * gi, silent: true, animation: false, clip: true,
    data: [[start, hi[0]]], encode: { x: 0, y: 1 },
    renderItem(params, api) {
      const pts = [];
      for (let i = 0; i < hi.length; i++) pts.push(api.coord([start + i * step, hi[i]]));
      for (let i = lo.length - 1; i >= 0; i--) pts.push(api.coord([start + i * step + step / 2, lo[i]]));
      return { type: 'polygon', shape: { points: pts }, style: { fill: color } };
    }
  };
}

const grids = [
  { left: 31.4, top: 14.2, width: 484.8, height: 265.7 },   // fuel feed
  { left: 31.4, top: 377, width: 484.8, height: 264.4 },    // composition
  { left: 670.5, top: 15.2, width: 484.9, height: 166 },    // O2
  { left: 670.5, top: 243.8, width: 484.9, height: 166.9 }, // SO2
  { left: 670.5, top: 474, width: 484.9, height: 166.6 }    // temperatures
].map(g => Object.assign({ show: true, backgroundColor: '#ffffff', borderWidth: 0, outerBoundsMode: 'none', containLabel: false }, g));

const tickStyle = { show: true, inside: true, length: 4, lineStyle: { color: frameColor, width: 1 } };
const lineAxis = { show: true, onZero: false, lineStyle: { color: frameColor, width: 1 } };

const xAxes = [];
const yAxes = [];
const labelMargins = [6, 6, 7, 7, 5];
grids.forEach((g, gi) => {
  const bottom = {
    type: 'value', gridIndex: gi, position: 'bottom', min: hourMin, max: hourMax, interval: hourStep,
    axisLine: lineAxis, axisTick: tickStyle, splitLine: { show: false },
    axisLabel: { show: true, margin: labelMargins[gi], fontSize: 9, color: '#6a6a6a', fontFamily: tickFont }
  };
  if (gi === 4) {
    Object.assign(bottom, { name: 'time [h]', nameLocation: 'middle', nameGap: 19,
      nameTextStyle: { fontSize: 9, color: '#555', fontFamily: tickFont } });
  }
  xAxes.push(bottom);
  xAxes.push({
    type: 'value', gridIndex: gi, position: 'top', min: hourMin, max: hourMax, interval: hourStep,
    axisLine: lineAxis, axisTick: tickStyle, axisLabel: { show: false }, splitLine: { show: false }
  });
});

const subRich = { s: { fontSize: 6, fontFamily: tickFont, color: '#555', padding: [0, 0, -5, 0] } };
const yCfg = [
  { type: 'value', min: 0, max: 7, interval: 1, name: 'fuel [kg/s]', nameGap: 7,
    nameTextStyle: { fontSize: 8, color: '#555', fontFamily: tickFont } },
  { type: 'log', min: 0.01, max: 100, logBase: 10, splitNumber: 4, name: 'fuel [%]', nameGap: 6,
    nameTextStyle: { fontSize: 9, color: '#333', fontWeight: 'bold', fontFamily: tickFont } },
  { type: 'value', min: 0, max: 3, interval: 1, name: 'O{s|2}', nameGap: 10,
    nameTextStyle: { fontSize: 9, color: '#555', fontFamily: tickFont, rich: subRich } },
  { type: 'value', min: 0, max: 5, interval: 1, name: 'SO{s|2}', nameGap: 10,
    nameTextStyle: { fontSize: 9, color: '#555', fontFamily: tickFont, rich: subRich } },
  { type: 'value', min: 0, max: 7, interval: 1, name: 'temperatures', nameGap: 7,
    nameTextStyle: { fontSize: 8.5, color: '#555', fontFamily: tickFont } }
];
yCfg.forEach((c, gi) => {
  yAxes.push(Object.assign({
    gridIndex: gi, position: 'left', nameLocation: 'middle',
    axisLine: lineAxis, axisTick: tickStyle, axisLabel: { show: false }, splitLine: { show: false }
  }, c));
  const right = {
    type: c.type, gridIndex: gi, position: 'right', min: c.min, max: c.max,
    axisLine: lineAxis, axisTick: tickStyle, axisLabel: { show: false }, splitLine: { show: false }
  };
  if (c.interval) right.interval = c.interval;
  if (c.logBase) { right.logBase = c.logBase; right.splitNumber = c.splitNumber; }
  yAxes.push(right);
});

function line(name, gi, data, color, width, extra) {
  return Object.assign({
    name, type: 'line', xAxisIndex: 2 * gi, yAxisIndex: 2 * gi, data,
    symbol: 'none', showSymbol: false, animation: false, silent: true,
    lineStyle: { color, width, join: 'bevel' }, itemStyle: { color }
  }, extra || {});
}
const dotted = (name, data, color) =>
  line(name, 1, data, color, 1.7, { lineStyle: { color, width: 1.7, type: 'dotted' } });

const minorTickValues = [];
logDecades.forEach(d => logMantissas.forEach(m => minorTickValues.push([hourMin, +(d * m).toPrecision(3)])));

const series = [
  // fuel feed
  line('woodchips', 0, woodchips, '#0072bd', 2),
  line('mix (50/35/15)', 0, mixFuel, '#d95319', 2),
  line('water', 0, waterFuel, '#edb120', 2),
  line('total-est', 0, totalEst, '#000000', 2, { lineStyle: { color: '#000', width: 2, type: 'dotted' } }),
  line('total-meas', 0, totalMeas, '#000000', 2.4),
  // composition
  dotted('ash', compAsh, '#0072bd'),
  dotted('C', compC, '#d95319'),
  dotted('H', compH, '#edb120'),
  dotted('N', compN, '#7e2f8e'),
  dotted('S', compS, '#77ac30'),
  dotted('O', compO, '#4dbeee'),
  {
    type: 'custom', xAxisIndex: 2, yAxisIndex: 2, data: minorTickValues, silent: true, animation: false,
    encode: { x: 0, y: 1 }, z: 3,
    renderItem(params, api) {
      const v = api.value(1);
      const a = api.coord([hourMin, v]);
      const b = api.coord([hourMax, v]);
      const st = { stroke: frameColor, lineWidth: 1 };
      return { type: 'group', children: [
        { type: 'line', shape: { x1: a[0], y1: a[1], x2: a[0] + 2.5, y2: a[1] }, style: st },
        { type: 'line', shape: { x1: b[0] - 2.5, y1: b[1], x2: b[0], y2: b[1] }, style: st }
      ] };
    }
  },
  // O2
  envelope(2, 0, 2, o2MeasHi, o2MeasLo, '#000000'),
  line('O2 meas', 2, noiseTrace(0, 2, o2MeasHi, o2MeasLo), '#000000', 1.2),
  line('O2 meas transient', 2, o2MeasSpike, '#000000', 1),
  envelope(2, 0, 2, o2EstHi, o2EstLo, '#e0581d'),
  line('O2 est', 2, noiseTrace(0, 2, o2EstHi, o2EstLo), '#e0581d', 1.2),
  line('O2 est transient', 2, o2EstSpike, '#e0581d', 1),
  // SO2
  envelope(3, 0, 1, so2MeasHi, so2MeasLo, 'rgba(0,0,0,0.35)'),
  line('SO2 meas', 3, noiseTrace(0, 1, so2MeasHi, so2MeasLo), '#000000', 1.3),
  line('SO2 est', 3, so2Est, '#e8591a', 2.4),
  // temperatures
  line('T1 est', 4, tempEstBlue, '#3a98d8', 2),
  line('T2 est', 4, tempEstOrange, '#e0561c', 2),
  line('T1 meas', 4, tempMeasBlue, '#1b5e9c', 1.8),
  line('T2 meas', 4, tempMeasBrown, '#a2401a', 1.8),
  line('T3 meas', 4, tempMeasOlive, '#a38a1f', 1.8),
  line('T3 est', 4, tempEstYellow, '#f0b420', 2.2)
];

const legendBase = {
  orient: 'vertical', backgroundColor: '#ffffff', borderColor: '#4a4a4a', borderWidth: 1,
  selectedMode: false, itemStyle: { opacity: 0 }
};

const option = {
  animation: false,
  backgroundColor: '#f0f0f0',
  textStyle: { fontFamily: tickFont },
  grid: grids,
  xAxis: xAxes,
  yAxis: yAxes,
  title: [
    { text: 'fuel feed estimates', right: 656.5, top: 304 },
    { text: 'elementary composition estimates', right: 656.5, top: 357.5 },
    { text: 'flue gas meas & estimates', left: 668, top: 223.5 },
    { text: 'temperature meas & estimates', left: 668, top: 445 }
  ].map(t => Object.assign({ padding: 0, textStyle: { fontFamily: titleFont, fontSize: 19, fontWeight: 'normal', color: '#151515' } }, t)),
  legend: [
    Object.assign({}, legendBase, {
      data: ['woodchips', 'mix (50/35/15)', 'water', 'total-est', 'total-meas'],
      left: 41, top: 221, itemWidth: 33, itemHeight: 5, itemGap: 3.5, padding: [2, 3, 2, 3],
      textStyle: { fontSize: 6, color: '#444', fontFamily: tickFont }
    }),
    Object.assign({}, legendBase, {
      data: ['ash', 'C', 'H', 'N', 'S', 'O'],
      left: 449, top: 558.5, itemWidth: 30, itemHeight: 8, itemGap: 4.6, padding: [3, 3, 3, 2],
      textStyle: { fontSize: 10, color: '#111', fontFamily: tickFont }
    })
  ],
  series
};

const chart = echarts.init(document.getElementById('chart'), null, { renderer: 'canvas' });
chart.setOption(option);

// page margins and highlight ellipses in the fuel feed panel
const frameRects = [
  { type: 'rect', shape: { x: 0, y: 0, width: 1171, height: 10 }, style: { fill: '#ffffff' }, silent: true, z: -10 },
  { type: 'rect', shape: { x: 0, y: 0, width: 7, height: 664 }, style: { fill: '#ffffff' }, silent: true, z: -10 }
];
const ellipses = highlightCentres.map((c, i) => {
  const p = chart.convertToPixel({ xAxisIndex: 0, yAxisIndex: 0 }, c);
  const q = chart.convertToPixel({ xAxisIndex: 0, yAxisIndex: 0 }, [c[0] + highlightRadii[i][0], c[1] + highlightRadii[i][1]]);
  return {
    type: 'ellipse', silent: true, z: 100,
    shape: { cx: p[0], cy: p[1], rx: Math.abs(q[0] - p[0]), ry: Math.abs(q[1] - p[1]) },
    style: { fill: 'none', stroke: highlightColours[i], lineWidth: 4 }
  };
});
chart.setOption({ graphic: frameRects.concat(ellipses) });
</script>
</body>
</html>
